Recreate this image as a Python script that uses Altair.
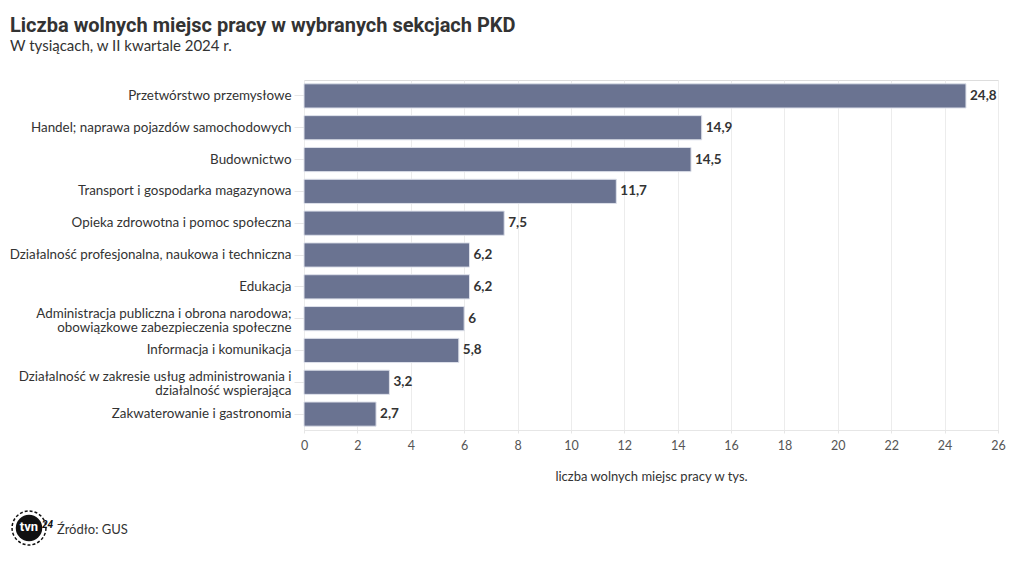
import altair as alt
import pandas as pd

categories = [
    "Przetwórstwo przemysłowe",
    "Handel; naprawa pojazdów samochodowych",
    "Budownictwo",
    "Transport i gospodarka magazynowa",
    "Opieka zdrowotna i pomoc społeczna",
    "Działalność profesjonalna, naukowa i techniczna",
    "Edukacja",
    "Administracja publiczna i obrona narodowa;|obowiązkowe zabezpieczenia społeczne",
    "Informacja i komunikacja",
    "Działalność w zakresie usług administrowania i|działalność wspierająca",
    "Zakwaterowanie i gastronomia",
]
values = [24.8, 14.9, 14.5, 11.7, 7.5, 6.2, 6.2, 6.0, 5.8, 3.2, 2.7]
value_labels = ["24,8", "14,9", "14,5", "11,7", "7,5", "6,2", "6,2", "6", "5,8", "3,2", "2,7"]
tick_values = list(range(0, 27, 2))

df = pd.DataFrame({"kat": categories, "val": values, "lab": value_labels})

base = alt.Chart(df)

bars = base.mark_bar(color="#6a7391", stroke="#dde0ea", strokeWidth=1).encode(
    y=alt.Y("kat:N", sort=categories,
            scale=alt.Scale(paddingInner=0.24, paddingOuter=0.12),
            axis=alt.Axis(title=None, labelExpr="split(datum.value, '|')",
                          labelFontSize=13.4, labelColor="#333333", labelFont="Lato",
                          labelLimit=300, labelPadding=3, domain=False,
                          tickColor="#e6e6e6", tickSize=10, labelLineHeight=14,
                          labelOffset=alt.condition("indexof(datum.value, '|') >= 0",
                                                    alt.value(-5), alt.value(0)),
                          grid=False)),
    x=alt.X("val:Q", scale=alt.Scale(domain=[0, 26], nice=False),
            axis=alt.Axis(values=tick_values, title="liczba wolnych miejsc pracy w tys.",
                          titleFont="Lato", titleFontSize=13, titleFontWeight="normal",
                          titleColor="#333333", titlePadding=19,
                          labelFont="Lato", labelFontSize=12.5, labelColor="#555555",
                          labelPadding=6, labelFlush=False,
                          domain=True, domainColor="#e6e6e6",
                          ticks=True, tickColor="#e6e6e6", tickSize=3,
                          grid=True, gridColor="#ececec")),
)

text = base.mark_text(align="left", dx=4, fontWeight="bold", fontSize=13.5,
                      font="Lato", color="#333333").encode(
    y=alt.Y("kat:N", sort=categories),
    x=alt.X("val:Q"),
    text="lab:N",
)

footer_df = pd.DataFrame({"t": ["Źródło: GUS"]})
footer = alt.Chart(footer_df).mark_text(align="left", baseline="middle", fontSize=13,
                                         font="Lato", color="#333333").encode(
    x=alt.value(-247), y=alt.value(450), text="t:N")

logo_circle = alt.Chart(footer_df).mark_point(filled=True, color="#111111", size=700,
                                               opacity=1).encode(
    x=alt.value(-275), y=alt.value(448))
logo_ring = alt.Chart(footer_df).mark_point(filled=False, color="#111111", size=1150,
                                             strokeWidth=1.5, strokeDash=[3, 2],
                                             opacity=1).encode(
    x=alt.value(-275), y=alt.value(448))
logo_text = alt.Chart(pd.DataFrame({"t": ["tvn"]})).mark_text(
    align="center", baseline="middle", fontSize=13, fontWeight="bold",
    font="Roboto", color="white").encode(x=alt.value(-275), y=alt.value(447), text="t:N")
logo_24 = alt.Chart(pd.DataFrame({"t": ["24"]})).mark_text(
    align="left", baseline="middle", fontSize=10, fontWeight="bold", fontStyle="italic",
    font="Roboto", color="#111111").encode(x=alt.value(-262), y=alt.value(445), text="t:N")

chart = alt.layer(bars, text, footer, logo_ring, logo_circle, logo_text, logo_24).properties(
    width=694, height=350,
    title=alt.Title(
        "Liczba wolnych miejsc pracy w wybranych sekcjach PKD",
        subtitle="W tysiącach, w II kwartale 2024 r.",
        anchor="start", frame="group", dx=-294,
        font="Roboto", fontSize=20, fontWeight="bold", color="#333333",
        subtitleFont="Lato", subtitleFontSize=15, subtitleColor="#333333",
        subtitlePadding=3, offset=26,
    ),
    padding={"left": 296, "top": 72, "right": 12, "bottom": 120},
    autosize=alt.AutoSizeParams(type="none"),
).configure_view(stroke=None).configure(background="white")

chart.save("out.html", embed_options={"renderer": "svg", "actions": False})
